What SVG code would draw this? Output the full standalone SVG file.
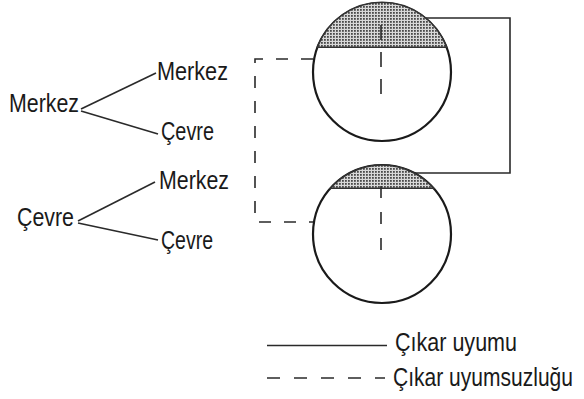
<svg xmlns="http://www.w3.org/2000/svg" width="584" height="399" viewBox="0 0 584 399">
  <style>
    .t { font-family: "Liberation Sans Narrow", "Liberation Sans", Arial, sans-serif; font-size: 26px; fill: #1a1a1a; }
    .ln { stroke: #2a2a2a; stroke-width: 1.6; fill: none; }
    .dash { stroke: #2a2a2a; stroke-width: 1.6; fill: none; stroke-dasharray: 13 14; }
    .circ { stroke: #1a1a1a; stroke-width: 2.2; fill: #fff; }
    .cap { fill: url(#stip); stroke: #333; stroke-width: 1.6; }
  </style>
  <defs>
    <pattern id="stip" width="3" height="3" patternUnits="userSpaceOnUse">
      <rect width="3" height="3" fill="#d8d8d8"/>
      <rect x="0" y="0" width="1.8" height="1.8" fill="#4a4a4a"/>
    </pattern>
  </defs>
  <rect width="584" height="399" fill="#fff"/>

  <g id="connectors">
    <line class="ln" x1="81" y1="109" x2="156" y2="73"/>
    <line class="ln" x1="81" y1="111" x2="158" y2="134"/>
    <line class="ln" x1="78" y1="221" x2="155" y2="182"/>
    <line class="ln" x1="78" y1="223" x2="158" y2="240"/>
    <polyline class="ln" points="425,18 510,18 510,173 415,173"/>
    <polyline class="dash" points="313,59 255,59 255,222 313,222" style="stroke-dasharray:12 13"/>
  </g>

  <g id="circle-top">
    <circle class="circ" cx="382" cy="72" r="69"/>
    <path class="cap" d="M317.3,47.3 A69,69 0 0 1 446.7,47.3 Z"/>
    <line class="dash" x1="381" y1="25" x2="381" y2="95" style="stroke-dasharray:15 12"/>
  </g>

  <g id="circle-bottom">
    <circle class="circ" cx="382" cy="234" r="69"/>
    <path class="cap" d="M330.3,188.3 A69,69 0 0 1 433.7,188.3 Z"/>
    <line class="dash" x1="381" y1="186" x2="381" y2="250" style="stroke-dasharray:12 14"/>
  </g>

  <g id="n-merkez">
    <text class="t" x="9" y="112" textLength="70" lengthAdjust="spacingAndGlyphs">Merkez</text>
  </g>
  <g id="n-merkez-merkez">
    <text class="t" x="157" y="80" textLength="71" lengthAdjust="spacingAndGlyphs">Merkez</text>
  </g>
  <g id="n-merkez-cevre">
    <text class="t" x="161" y="140" textLength="53" lengthAdjust="spacingAndGlyphs">Çevre</text>
  </g>
  <g id="n-cevre">
    <text class="t" x="17" y="226" textLength="57" lengthAdjust="spacingAndGlyphs">Çevre</text>
  </g>
  <g id="n-cevre-merkez">
    <text class="t" x="159" y="189" textLength="70" lengthAdjust="spacingAndGlyphs">Merkez</text>
  </g>
  <g id="n-cevre-cevre">
    <text class="t" x="161" y="249" textLength="52" lengthAdjust="spacingAndGlyphs">Çevre</text>
  </g>

  <g id="legend">
    <line class="ln" x1="267" y1="345.5" x2="387" y2="345.5"/>
    <text class="t" x="395" y="351" textLength="122" lengthAdjust="spacingAndGlyphs">Çıkar uyumu</text>
    <line class="dash" x1="267" y1="378" x2="385" y2="378"/>
    <text class="t" x="393" y="386" textLength="180" lengthAdjust="spacingAndGlyphs">Çıkar uyumsuzluğu</text>
  </g>
</svg>
